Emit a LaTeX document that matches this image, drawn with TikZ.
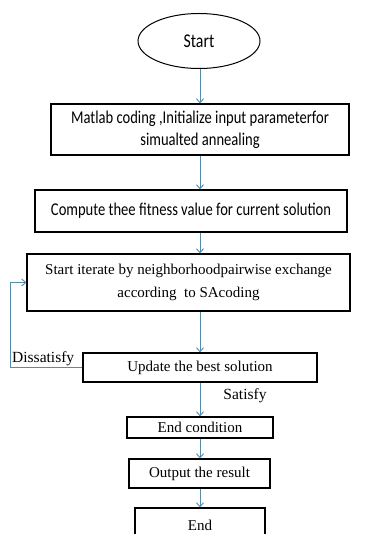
\documentclass[tikz,border=0pt]{standalone}
\usepackage{fontspec}
\setmainfont{Liberation Serif}
\newfontfamily\gill[FakeStretch=0.81]{Carlito}
\usetikzlibrary{arrows.meta,shapes.geometric}
\definecolor{arrblue}{RGB}{84,141,171}
\tikzset{
  box/.style={draw=black, line width=1.2pt, rectangle, inner sep=0pt, align=center},
  arr/.style={draw=arrblue, line width=0.9pt, -{Straight Barb[length=4pt,width=7pt]}},
  gtext/.style={font=\gill\fontsize{18}{22}\selectfont},
  ttext/.style={font=\fontsize{15}{22.5}\selectfont},
  ltext/.style={font=\fontsize{15.5}{18}\selectfont, inner sep=0pt},
}
\begin{document}
\begin{tikzpicture}[x=1pt,y=-1pt]
\useasboundingbox (0,0) rectangle (368,534);
\clip (0,0) rectangle (368,534);
\coordinate (ax) at (200,0);
\coordinate (fb) at (10,0);
\node[ellipse, draw=black, line width=1pt, minimum width=122pt, minimum height=55pt, inner sep=0pt, font=\gill\fontsize{19.5}{22}\selectfont] (start) at (199,41) {Start};
\node[box, minimum width=298pt, minimum height=51pt, gtext] (b1) at (200,129.5) {Matlab coding ,Initialize input parameterfor\\simualted annealing};
\node[box, minimum width=312pt, minimum height=42pt, gtext] (b2) at (191,211) {Compute thee fitness value for current solution};
\node[box, minimum width=323pt, minimum height=57pt, ttext] (b3) at (188.5,282.5) {Start iterate by neighborhoodpairwise exchange\\according\ \ to SAcoding};
\node[box, minimum width=234pt, minimum height=29pt, ttext] (b4) at (200,367.5) {Update the best solution};
\node[box, minimum width=146pt, minimum height=21pt, ttext] (b5) at (200,427.5) {End condition};
\node[box, minimum width=141pt, minimum height=29pt, ttext] (b6) at (199.5,473.5) {Output the result};
\node[box, minimum width=130pt, minimum height=34pt, ttext] (b7) at (200,525) {End};
\node[ltext, anchor=base west] (dis) at (12,362) {Dissatisfy};
\node[ltext, anchor=base] (sat) at (245,399) {Satisfy};
\draw[arr] (start.south -| ax) -- (b1.north -| ax);
\draw[arr] (b1.south -| ax) -- (b2.north -| ax);
\draw[arr] (b2.south -| ax) -- (b3.north -| ax);
\draw[arr] (b3.south -| ax) -- (b4.north -| ax);
\draw[arr] (b4.south -| ax) -- (b5.north -| ax);
\draw[arr] (b5.south -| ax) -- (b6.north -| ax);
\draw[arr] (b6.south -| ax) -- (b7.north -| ax);
\draw[arr] (b4.west) -- (b4.west -| fb) |- (b3.west);
\end{tikzpicture}
\end{document}
